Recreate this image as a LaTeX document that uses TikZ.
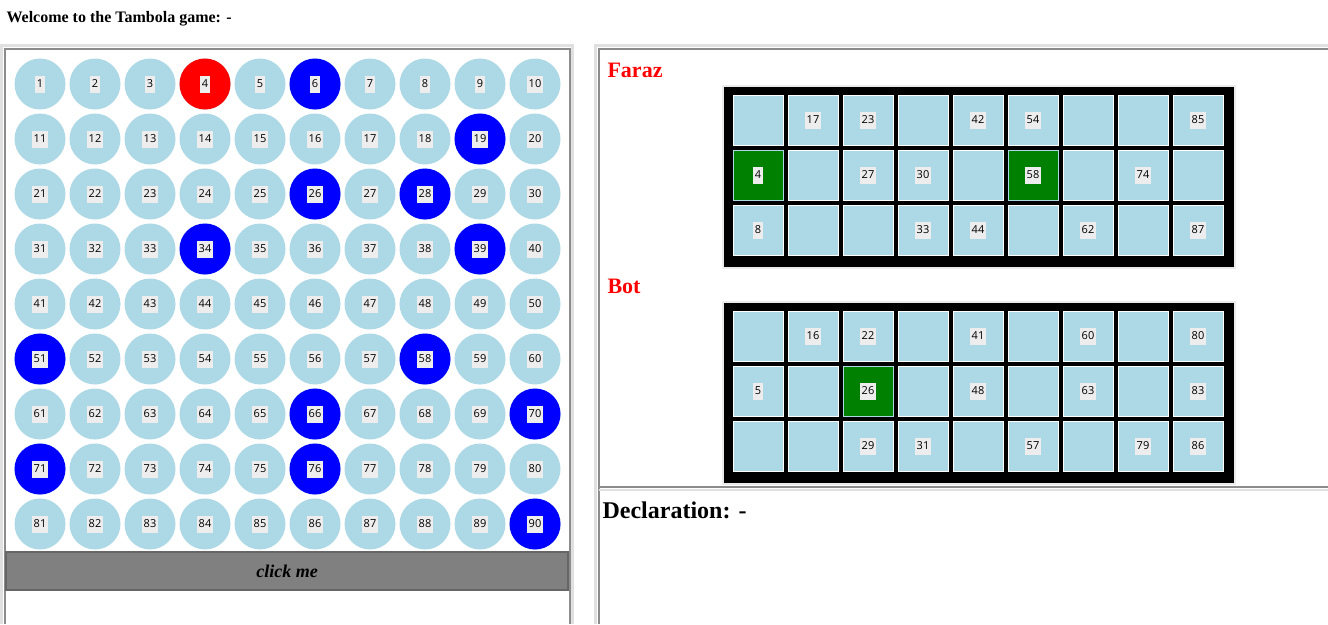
\documentclass[tikz,border=0pt]{standalone}
\usepackage{fontspec}
\setmainfont{Liberation Serif}
\newfontfamily\numfont{Open Sans}
\definecolor{lb}{HTML}{ADD8E6}
\definecolor{gr}{HTML}{008000}
\begin{document}
\begin{tikzpicture}[x=1pt,y=-1pt,
  ball/.style={circle,fill=#1,minimum size=51pt,inner sep=0pt},
  lbl/.style={fill=black!7,inner sep=2pt,font=\numfont\fontsize{11}{11}\selectfont,minimum height=17pt},
  cellbox/.style={fill=#1,draw=white,line width=1pt,minimum size=50pt,inner sep=0pt}]
\useasboundingbox (0,0) rectangle (1328,624);
\fill[white] (0,0) rectangle (1328,624);
\node[anchor=west,font=\bfseries\fontsize{16}{16}\selectfont] (welcome) at (3,19) {Welcome to the Tambola game: -};
% left panel frames
\draw[black!12,line width=3pt] (1.5,624) -- (1.5,45.5) -- (572.5,45.5) -- (572.5,624);
\draw[black!45,line width=2pt] (5,624) -- (5,49) -- (570,49) -- (570,624);
% balls
\foreach \n in {1,...,90}{
  \pgfmathtruncatemacro{\r}{int((\n-1)/10)}
  \pgfmathtruncatemacro{\c}{mod(\n-1,10)}
  \node[ball=lb] (b\n) at ({40+55*\c},{84+55*\r}) {};
}
\foreach \n in {6,19,26,28,34,39,51,58,66,70,71,76,90}{
  \pgfmathtruncatemacro{\r}{int((\n-1)/10)}
  \pgfmathtruncatemacro{\c}{mod(\n-1,10)}
  \node[ball=blue] (bb\n) at ({40+55*\c},{84+55*\r}) {};
}
\node[ball=red] (bb4) at (b4) {};
\foreach \n in {1,...,90}{ \node[lbl] (t\n) at (b\n) {\n}; }
% button
\node[draw=black!60,line width=1.5pt,fill=black!50,minimum width=562pt,minimum height=38pt,inner sep=0pt,font=\bfseries\itshape\fontsize{18}{18}\selectfont] (btn) at (287,571) {click me};
% right panel
\draw[black!12,line width=3pt] (595.5,624) -- (595.5,45.5) -- (1328,45.5);
\draw[black!45,line width=2pt] (599,624) -- (599,49) -- (1328,49);
\draw[black!45,line width=2pt] (599,487) -- (1328,487);
\draw[black!12,line width=2pt] (599,490) -- (1328,490);
\node[anchor=west,text=red,font=\bfseries\fontsize{22}{22}\selectfont] (faraz) at (604,70) {Faraz};
\node[anchor=west,text=red,font=\bfseries\fontsize{22}{22}\selectfont] (bot) at (604,286) {Bot};
\node[anchor=west,font=\bfseries\fontsize{24}{24}\selectfont] (decl) at (599,510) {Declaration: -};
% tickets
\foreach \ty/\tn in {87/f,303/b}{
  \draw[black!8,line width=2pt] (723,\ty-1) rectangle (1235,\ty+181);
  \fill[black] (724,\ty) rectangle (1234,\ty+180);
  \foreach \ri in {0,1,2}{\foreach \ci in {0,...,8}{
    \node[cellbox=lb] (\tn\ri\ci) at ({758+55*\ci},{\ty+33+55*\ri}) {};
  }}
}
\foreach \tn/\ri/\ci/\v/\g in {
 f/0/1/17/0,f/0/2/23/0,f/0/4/42/0,f/0/5/54/0,f/0/8/85/0,
 f/1/0/4/1,f/1/2/27/0,f/1/3/30/0,f/1/5/58/1,f/1/7/74/0,
 f/2/0/8/0,f/2/3/33/0,f/2/4/44/0,f/2/6/62/0,f/2/8/87/0,
 b/0/1/16/0,b/0/2/22/0,b/0/4/41/0,b/0/6/60/0,b/0/8/80/0,
 b/1/0/5/0,b/1/2/26/1,b/1/4/48/0,b/1/6/63/0,b/1/8/83/0,
 b/2/2/29/0,b/2/3/31/0,b/2/5/57/0,b/2/7/79/0,b/2/8/86/0}{
  \ifnum\g=1 \node[cellbox=gr,draw=lb] (g\tn\v) at (\tn\ri\ci) {}; \fi
  \node[lbl] (n\tn\v) at (\tn\ri\ci) {\v};
}
\end{tikzpicture}
\end{document}
